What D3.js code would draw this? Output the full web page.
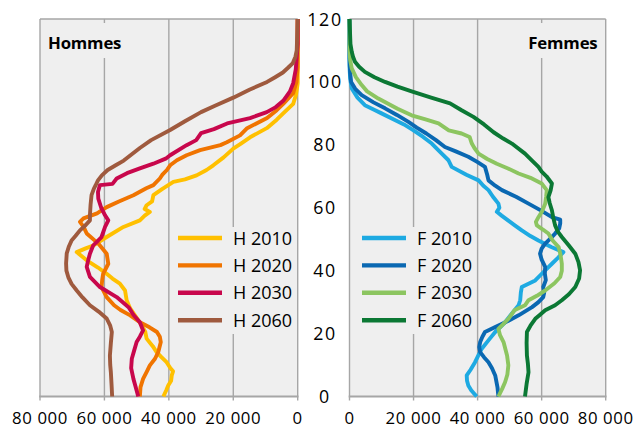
<!DOCTYPE html>
<html><head><meta charset="utf-8">
<script src="https://cdn.jsdelivr.net/npm/d3@7"></script>
<style>
html,body{margin:0;padding:0;background:#fff;}
svg{display:block;font-family:"Open Sans",sans-serif;}
</style></head>
<body><svg id="c" width="640" height="429"></svg>
<script>
// ---- data: [age, persons] pairs ----
const xTicks = [0, 20000, 40000, 60000, 80000];
const yTicks = [0, 20, 40, 60, 80, 100, 120];
const menLabels = ["H 2010", "H 2020", "H 2030", "H 2060"];
const womenLabels = ["F 2010", "F 2020", "F 2030", "F 2060"];
const menColors = ["#FFC000", "#F07400", "#C8074C", "#9F5A3E"];
const womenColors = ["#1EAAE2", "#0A68B2", "#8CC560", "#0B7834"];

const h2010 = [[0,41700],[2,40800],[3.5,40200],[5,39300],[6.7,39100],[8,38700],[9,39500],[10.9,40700],[12.5,42300],[14.1,43800],[16,45000],[18.4,46900],[20.5,47300],[22.6,48400],[25,50000],[28,52000],[30.6,53100],[33.7,53600],[35.9,55200],[37.5,57500],[39,59300],[41,62000],[43.3,65500],[45.9,68600],[47,66000],[48,63500],[50.7,59300],[53.9,54100],[56,49000],[57.5,47500],[58.7,45900],[59.6,47500],[60.8,46900],[62,45200],[64,44800],[66,42000],[68.2,38600],[69,35000],[70.3,31400],[72,28300],[73.5,26200],[76,23000],[78.8,20000],[80.5,17500],[82.4,14800],[85.3,9600],[88,6500],[90,4500],[93,1400],[96,500],[99.6,0],[120,0]];
const h2020 = [[0,49000],[3,48800],[5.6,48000],[8,46800],[9.9,45900],[12,44300],[14.1,43300],[17.3,42500],[19,42800],[20.5,43700],[22,46000],[23.6,49000],[25.8,52000],[27.5,55000],[29,57000],[31.6,59300],[34.8,60900],[37,60700],[39,60400],[42.2,58800],[45.4,59300],[48.6,61900],[51.8,65500],[54,66500],[55.5,67600],[56.6,66500],[58.2,62300],[60.2,59300],[62,55500],[64,51000],[66.2,47000],[67.2,44800],[69.3,42800],[70.5,42000],[72,40600],[73.5,39600],[75.1,37500],[76.7,34500],[78.3,30300],[79.9,24000],[80.8,22000],[83,17900],[85.3,15700],[88.5,9500],[91,6500],[93,4500],[96.4,1400],[100,400],[104.7,0],[120,0]];
const h2030 = [[0,49500],[3,50300],[5.6,51000],[9,51700],[12,51500],[14.5,50800],[17.3,50000],[19,49000],[21,48000],[23.6,49000],[26,51000],[28.4,52500],[31.6,56200],[34.8,61400],[38,64500],[41.2,65500],[43.5,65000],[45.4,64500],[48,63500],[50.7,60900],[53.9,59800],[56,58800],[57.6,59800],[60,61000],[62.9,61900],[65,62000],[67.2,61400],[67.6,57500],[69.3,56200],[71,53000],[72.5,49000],[74,44800],[75.6,41000],[76.7,39600],[79.9,34500],[81.5,31500],[83.7,30000],[85,26000],[86.8,21900],[88.5,14800],[90.4,9600],[92,6800],[94,4500],[97,2400],[99.6,1400],[104,600],[112,0],[120,0]];
const h2060 = [[0,57600],[4,57800],[7.7,58000],[10,58200],[13,58300],[17,58000],[20.5,57700],[22.5,58200],[24.8,59300],[27,61800],[29,64500],[31.5,66800],[33.7,68600],[35.8,70200],[37.9,71200],[40,71800],[42.3,71900],[45.5,71700],[47.5,71100],[49.6,70200],[51,69000],[52.8,67600],[54.5,65800],[56,64500],[57.6,64500],[61,64300],[64,64000],[66,63300],[67,62800],[68.7,62000],[70.3,60800],[72,59000],[73.5,56500],[75,54000],[77,51500],[79,49000],[81.5,45500],[84.7,39600],[87.5,35000],[90.4,30000],[92.5,25500],[95,20000],[97.5,15000],[100,9500],[101.5,7000],[103,4600],[104.5,3000],[106,1500],[108,700],[110,300],[120,0]];

const f2010 = [[0,39700],[2,38000],[3.5,37100],[5,36700],[6.7,36600],[8.5,37800],[10.9,39200],[13,40200],[15.2,41300],[18,43500],[20.5,45500],[23.6,48600],[26.5,50800],[29,52800],[30.6,53300],[33,53500],[34.8,53800],[36.9,58000],[39.5,60500],[42.2,63200],[44,65000],[45.9,66800],[47.5,63000],[49.6,59000],[51,56500],[52.8,53800],[54.5,51500],[56,49500],[57.5,47500],[58.7,46000],[60,46800],[61.3,46500],[63.5,44800],[65.6,43400],[67,41800],[68.7,40300],[70.5,36500],[73,31900],[75.1,30900],[77.5,28500],[80.4,25700],[82.5,23000],[84.6,20000],[86.5,17000],[88,14000],[90,10000],[91,8000],[92.6,4800],[95,2500],[97.9,700],[101,200],[105,0],[120,0]];
const f2020 = [[0,46500],[3,46200],[6.7,45500],[9,44500],[10.9,43400],[12.5,42000],[14.1,40800],[15.7,40500],[17.3,40800],[19,41500],[20.5,42300],[22.6,46500],[24,49500],[25.8,52800],[28.4,57000],[30,59000],[31.6,60500],[33,60800],[34.8,60500],[37,61300],[39,61000],[41.2,61100],[43.5,60000],[45.4,59500],[47,60000],[48.6,61100],[50.5,63000],[51.8,64200],[53.5,65500],[55,65800],[56.2,65800],[57,63200],[59,60000],[61.3,55900],[63.5,52000],[65.6,47600],[67,45500],[68.7,43400],[70.5,43000],[73,42300],[74.5,40000],[76.2,37100],[78,33000],[79.3,29800],[81.5,27000],[83.6,24000],[85.5,21000],[87.3,18400],[89.5,14800],[91.6,11100],[93.5,7500],[95.8,3800],[97.8,1800],[100,500],[103,200],[107.5,0],[120,0]];
const f2030 = [[0,46500],[2.5,47700],[4.6,48600],[7,49300],[9.9,49600],[13,49200],[17.3,48100],[19.5,47000],[21.5,46500],[23,48000],[24.7,49600],[27.4,51500],[29,54800],[30.6,55900],[32,58500],[33.7,61100],[36,64000],[38,65800],[40,66300],[42.2,66300],[45,65900],[47.5,65300],[49.5,63500],[51.8,62100],[53,60500],[54.4,58500],[55.5,58200],[57,59000],[59,60200],[61.3,61100],[63.5,61400],[65.6,61600],[67.7,60000],[69.5,56500],[70.9,52800],[72.5,49500],[74,46000],[75.5,43000],[77.2,40300],[79,39000],[80.4,38200],[82.5,37500],[83.6,35000],[84.6,31000],[86.8,27800],[88,24000],[89.4,19400],[91.5,15000],[94.7,9000],[97,5500],[99,3800],[101.5,2000],[104.3,700],[107,200],[110,0],[120,0]];
const f2060 = [[0,54800],[4,55300],[7.7,55900],[10.5,55700],[13,55400],[17,55300],[20.5,55400],[22.5,56500],[24.7,58000],[26,59500],[27.4,61100],[29,64200],[30.6,66300],[32.5,68500],[34.8,70500],[37.5,71700],[40.1,72000],[42.7,71500],[45.4,70500],[48,68500],[50.7,66300],[52.5,65000],[54.4,64200],[57,63600],[59.2,63200],[61.5,62500],[63.4,62100],[65.5,62800],[67.7,63200],[70,61500],[71.5,60000],[73,59000],[75,57000],[77.2,54800],[80.4,50700],[82,48000],[84,45000],[86.5,42000],[88.9,38700],[91,35000],[93.2,31400],[95,25500],[97,19400],[98.5,15000],[100,11100],[101.5,7800],[103.2,4800],[104.8,3000],[106.4,1700],[108,1100],[109.6,700],[112,300],[120,0]];

const menSeries = [h2010, h2020, h2030, h2060];
const womenSeries = [f2010, f2020, f2030, f2060];

// ---- layout ----
const svg = d3.select("#c");
const yTop = 19, yBottom = 396.5;
const y = d3.scaleLinear().domain([0, 120]).range([yBottom, yTop]);
const xm = d3.scaleLinear().domain([80000, 0]).range([40, 297.7]);
const xf = d3.scaleLinear().domain([0, 80000]).range([349.5, 605.7]);
const fmt = d => d3.format(",")(d).replace(/,/g, " ");
const bg = "#efefef", gridC = "#a6a6a6";

function panel(x, series, colors, labels, title, titleAnchor, titleX, titleBox, legBox, legLineX, legTextX) {
  const [x0, x1] = d3.extent(x.range());
  svg.append("rect").attr("x", x0).attr("y", yTop).attr("width", x1 - x0).attr("height", yBottom - yTop)
     .attr("fill", bg);
  svg.append("g").selectAll("line").data(xTicks).join("line")
     .attr("x1", d => x(d)).attr("x2", d => x(d)).attr("y1", yTop).attr("y2", yBottom + 4)
     .attr("stroke", gridC).attr("stroke-width", 1.4);
  svg.append("line").attr("x1", x0).attr("x2", x1).attr("y1", yTop).attr("y2", yTop).attr("stroke", gridC).attr("stroke-width", 1.6);
  svg.append("line").attr("x1", x0 - 0.8).attr("x2", x1 + 0.8).attr("y1", yBottom).attr("y2", yBottom).attr("stroke", gridC).attr("stroke-width", 2);
  svg.append("rect").attr("x", titleBox[0]).attr("y", titleBox[1]).attr("width", titleBox[2]).attr("height", titleBox[3]).attr("fill", bg);
  svg.append("text").attr("x", titleX).attr("y", 49).attr("text-anchor", titleAnchor)
     .attr("font-weight", "bold").attr("font-size", 16.8).attr("letter-spacing", -0.2).attr("fill", "#000").text(title);
  svg.append("rect").attr("x", legBox[0]).attr("y", legBox[1]).attr("width", legBox[2]).attr("height", legBox[3]).attr("fill", bg);
  const lg = svg.append("g").selectAll("g").data(labels).join("g")
     .attr("transform", (d, i) => `translate(0,${238 + i * 27.4})`);
  lg.append("line").attr("x1", legLineX[0]).attr("x2", legLineX[1]).attr("y1", 0).attr("y2", 0)
     .attr("stroke", (d, i) => colors[i]).attr("stroke-width", 4.4);
  lg.append("text").attr("x", legTextX).attr("y", 6.5).attr("font-size", 18).attr("fill", "#000").text(d => d);
  const line = d3.line().x(d => x(d[1])).y(d => y(d[0])).curve(d3.curveLinear);
  svg.append("g").selectAll("path").data(series).join("path")
     .attr("d", line).attr("fill", "none").attr("stroke", (d, i) => colors[i])
     .attr("stroke-width", 3.9).attr("stroke-linejoin", "round").attr("stroke-linecap", "butt");
  svg.append("g").selectAll("text").data(xTicks).join("text")
     .attr("x", d => x(d)).attr("y", 424).attr("text-anchor", "middle")
     .attr("font-size", 16.8).attr("letter-spacing", 0.6).attr("fill", "#000").text(fmt);
}

panel(xm, menSeries, menColors, menLabels, "Hommes", "start", 48, [44, 23, 80, 35], [172, 227, 124, 107], [178, 222], 233);
panel(xf, womenSeries, womenColors, womenLabels, "Femmes", "end", 597.5, [524, 23, 78, 35], [353, 227, 122, 107], [362, 406], 417);

svg.append("g").selectAll("text").data(yTicks).join("text")
   .attr("x", 325).attr("y", d => y(d) + 6.5).attr("text-anchor", "middle")
   .attr("font-size", 17.8).attr("letter-spacing", 1.6).attr("fill", "#000").text(d => d);
</script>
</body></html>
